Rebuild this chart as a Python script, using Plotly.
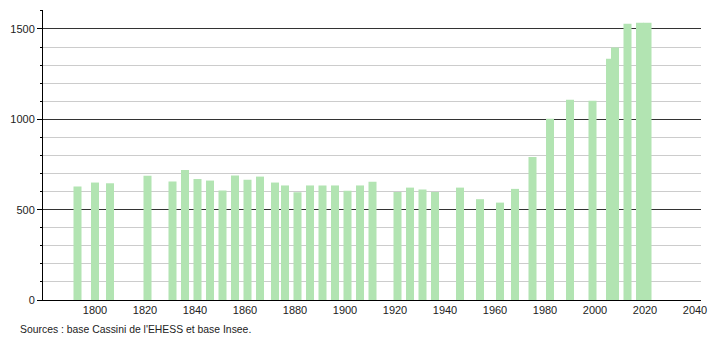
import plotly.graph_objects as go

years = [1793, 1800, 1806, 1821, 1831, 1836, 1841, 1846, 1851, 1856,
         1861, 1866, 1872, 1876, 1881, 1886, 1891, 1896, 1901, 1906,
         1911, 1921, 1926, 1931, 1936, 1946, 1954, 1962, 1968, 1975,
         1982, 1990, 1999, 2006, 2008, 2013, 2018, 2021]
population = [628, 650, 646, 687, 656, 720, 669, 661, 606, 689,
              665, 683, 650, 634, 597, 634, 634, 634, 604, 634,
              654, 598, 622, 611, 598, 622, 558, 539, 615, 792,
              1003, 1108, 1103, 1335, 1398, 1529, 1535, 1535]
x_ticks = [1800, 1820, 1840, 1860, 1880, 1900, 1920, 1940, 1960, 1980, 2000, 2020, 2040]
y_ticks = [0, 500, 1000, 1500]
source_text = "Sources : base Cassini de l'EHESS et base Insee."

fig = go.Figure()
fig.add_trace(go.Bar(
    x=years, y=population, width=3.2,
    marker=dict(color="#b2e4b2", line=dict(width=0)),
    hoverinfo="x+y",
))

fig.update_layout(
    width=710, height=340,
    margin=dict(l=43, r=9, t=10, b=40),
    paper_bgcolor="white", plot_bgcolor="white",
    showlegend=False,
    font=dict(family="Liberation Sans, Arial, sans-serif", size=11, color="#222"),
    xaxis=dict(
        range=[1779.2, 2042.4], automargin=False,
        tickvals=x_ticks, ticks="", showgrid=False, zeroline=False,
        showline=True, linecolor="#000", linewidth=1,
        tickfont=dict(size=11, color="#222"),
    ),
    yaxis=dict(
        range=[0, 1605], automargin=False,
        tickvals=y_ticks, ticks="outside", ticklen=5, tickcolor="#000",
        showgrid=True, gridcolor="#333", gridwidth=1,
        zeroline=False, showline=True, linecolor="#000", linewidth=1,
        minor=dict(dtick=100, showgrid=True, gridcolor="#cccccc", gridwidth=1,
                   ticks="outside", ticklen=2, tickcolor="#000"),
        tickfont=dict(size=11, color="#222"),
    ),
    annotations=[dict(
        text=source_text, xref="paper", yref="paper",
        x=-0.038, y=-0.1, xanchor="left", yanchor="middle",
        showarrow=False, font=dict(size=10.4, color="#222"),
    )],
)

fig.write_html("out.html")
